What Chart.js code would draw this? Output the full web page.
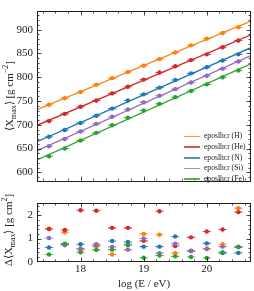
<!DOCTYPE html>
<html><head><meta charset="utf-8">
<script src="https://cdn.jsdelivr.net/npm/chart.js@4"></script>
<style>
html,body{margin:0;padding:0;background:#fff;}
#wrap{position:relative;width:254px;height:291px;overflow:hidden;font-family:"Liberation Serif",serif;color:#222;}
#c1box{position:absolute;left:0;top:0;width:254px;height:192px;}
#c2box{position:absolute;left:0;top:192px;width:254px;height:99px;}
.ytitle{position:absolute;white-space:nowrap;font-size:11px;line-height:12px;transform:translate(-50%,-50%) rotate(-90deg);}
.ytitle sub,.ytitle sup{font-size:0.72em;line-height:0;}
#legend{position:absolute;left:184px;top:131.4px;width:68px;font-size:7.6px;}
#legend div{height:10.6px;line-height:10.6px;white-space:nowrap;position:relative;}
#legend span.l{position:absolute;left:0;top:4.5px;width:16px;height:1.6px;}
#legend span.t{position:absolute;left:20px;top:0;}
</style></head>
<body>
<div id="wrap">
  <div id="c1box"><canvas id="c1" width="254" height="192"></canvas></div>
  <div id="c2box"><canvas id="c2" width="254" height="99"></canvas></div>
  <div class="ytitle" style="left:9px;top:96px;">⟨X<sub>max</sub>⟩ [g cm<sup>−2</sup>]</div>
  <div class="ytitle" style="left:8px;top:230px;">Δ⟨X<sub>max</sub>⟩ [g cm<sup>2</sup>]</div>
  <div id="legend"></div>
</div>
<script>
// ---------------- data ----------------
const logE = [17.5,17.75,18.0,18.25,18.5,18.75,19.0,19.25,19.5,19.75,20.0,20.25,20.5];
const seriesNames = ["eposlhcr (H)","eposlhcr (He)","eposlhcr (N)","eposlhcr (Si)","eposlhcr (Fe)"];
const xmaxH  = [742,756,769,784,798,811,824,838,852,867,881,893,905];
const xmaxHe = [708,723,738,751,766,780,795,810,823,836,848,863,877];
const xmaxN  = [675,689,704,719,734,751,764,778,794,808,821,835,848];
const xmaxSi = [655,670,686,702,717,732,747,761,775,789,803,818,833];
const xmaxFe = [634,650,667,683,699,715,730,744,758,771,785,800,814];
const dXmaxH  = [1.42,1.27,0.52,0.65,0.31,0.75,1.20,1.16,0.37,0.46,0.57,0.75,2.31];
const dXmaxHe = [1.41,1.37,2.22,2.20,1.46,1.46,0.90,2.18,0.68,1.05,1.30,1.39,2.14];
const dXmaxN  = [0.61,0.76,0.75,0.72,0.89,0.85,0.65,0.65,1.09,0.46,0.79,0.37,0.38];
const dXmaxSi = [1.02,0.71,0.57,0.75,0.64,0.52,1.00,0.37,0.78,0.48,0.55,0.65,0.62];
const dXmaxFe = [0.31,0.78,0.41,0.51,0.52,0.71,0.17,0.27,0.23,0.20,0.16,0.41,0.65];
const xTicks = [18,19,20];
const xmaxTicksStep = 50;
const dTicksStep = 1;
const binHalfWidth = 0.065;
const xmaxErr = 3;
const dXmaxErr = 0.06;

// ---------------- style ----------------
const colors = ["#ff7f0e","#d62728","#1f77b4","#9467bd","#2ca02c"];
const X_MIN = 17.31, X_MAX = 20.70;
const FONT = "'Liberation Serif', serif";
const TXT = "#222";

function alpha(hex,a){const n=parseInt(hex.slice(1),16);return `rgba(${n>>16},${(n>>8)&255},${n&255},${a})`;}
function fitLine(xs, ys){
  const n=xs.length; const mx=xs.reduce((a,b)=>a+b,0)/n; const my=ys.reduce((a,b)=>a+b,0)/n;
  let sxy=0,sxx=0; for(let i=0;i<n;i++){sxy+=(xs[i]-mx)*(ys[i]-my);sxx+=(xs[i]-mx)**2;}
  const b=sxy/sxx, a=my-b*mx;
  return [{x:X_MIN,y:a+b*X_MIN},{x:X_MAX,y:a+b*X_MAX}];
}
const pts = arr => logE.map((x,i)=>({x, y:arr[i]}));

const errorBars = {
  id:'errorBars',
  beforeDatasetDraw(chart, args){
    const ds = chart.data.datasets[args.index];
    if(!ds.errX) return;
    const {ctx, scales:{x,y}} = chart;
    ctx.save();
    ctx.strokeStyle = alpha(ds.backgroundColor,0.85);
    ctx.lineWidth = 1.1;
    ds.data.forEach(p=>{
      const px=x.getPixelForValue(p.x), py=y.getPixelForValue(p.y);
      ctx.beginPath();
      ctx.moveTo(x.getPixelForValue(p.x-ds.errX),py); ctx.lineTo(x.getPixelForValue(p.x+ds.errX),py);
      ctx.moveTo(px,y.getPixelForValue(p.y-ds.errY)); ctx.lineTo(px,y.getPixelForValue(p.y+ds.errY));
      ctx.stroke();
    });
    ctx.restore();
  }
};

const frameTicks = {
  id:'frameTicks',
  afterDraw(chart, args, o){
    const {ctx, chartArea:a, scales:{x,y}} = chart;
    ctx.save();
    ctx.strokeStyle = TXT; ctx.lineWidth = 1;
    ctx.strokeRect(Math.round(a.left)+0.5, Math.round(a.top)+0.5, Math.round(a.right-a.left)-1, Math.round(a.bottom-a.top)-1);
    const L=Math.round(a.left)+0.5, R=Math.round(a.right)-0.5, T=Math.round(a.top)+0.5, B=Math.round(a.bottom)-0.5;
    function vals(min,max,step){const out=[];for(let v=Math.ceil(min/step-1e-9)*step; v<=max+1e-9; v+=step) out.push(+v.toFixed(6));return out;}
    ctx.lineWidth = 0.8;
    const drawX=(v,len)=>{const px=Math.round(x.getPixelForValue(v))+0.5; if(px<L+1||px>R-1) return; ctx.beginPath(); ctx.moveTo(px,B); ctx.lineTo(px,B-len); ctx.moveTo(px,T); ctx.lineTo(px,T+len); ctx.stroke();};
    const drawY=(v,len)=>{const py=Math.round(y.getPixelForValue(v))+0.5; if(py<T+1||py>B-1) return; ctx.beginPath(); ctx.moveTo(L,py); ctx.lineTo(L+len,py); ctx.moveTo(R,py); ctx.lineTo(R-len,py); ctx.stroke();};
    vals(x.min,x.max,o.xMinor).forEach(v=>drawX(v,2));
    vals(x.min,x.max,o.xMajor).forEach(v=>drawX(v,4));
    vals(y.min,y.max,o.yMinor).forEach(v=>drawY(v,2));
    vals(y.min,y.max,o.yMajor).forEach(v=>drawY(v,4));
    ctx.restore();
  }
};

const arrsTop = [xmaxH,xmaxHe,xmaxN,xmaxSi,xmaxFe];
const arrsBot = [dXmaxH,dXmaxHe,dXmaxN,dXmaxSi,dXmaxFe];

function pointDatasets(arrs, err){
  return arrs.map((arr,i)=>({
    label: seriesNames[i], data: pts(arr), showLine:false,
    backgroundColor: colors[i], borderColor: colors[i],
    pointRadius: 2.2, pointBorderWidth: 0, pointHoverRadius: 2.2,
    errX: binHalfWidth, errY: err, order: 5 - i
  }));
}
const lineDatasets = arrsTop.map((arr,i)=>({
  label: seriesNames[i]+" fit", data: fitLine(logE, arr), showLine:true,
  borderColor: colors[i], backgroundColor: colors[i], borderWidth: 1.3,
  pointRadius: 0, order: 20 - i
}));

const yWidthFit = s => { s.width = 37; };

new Chart(document.getElementById('c1'), {
  type:'scatter',
  data:{ datasets:[...lineDatasets, ...pointDatasets(arrsTop, xmaxErr)] },
  options:{
    responsive:false, animation:false, devicePixelRatio:1,
    layout:{padding:{left:0,right:3,top:3,bottom:4}},
    plugins:{legend:{display:false}, tooltip:{enabled:false},
      frameTicks:{xMajor:1, xMinor:0.2, yMajor:50, yMinor:10}},
    scales:{
      x:{type:'linear', display:false, min:X_MIN, max:X_MAX},
      y:{type:'linear', min:581, max:940, afterFit:yWidthFit,
         grid:{display:false, drawTicks:false}, border:{display:false},
         ticks:{stepSize:xmaxTicksStep, includeBounds:false, padding:4, color:TXT, font:{family:FONT,size:11}}}
    }
  },
  plugins:[errorBars, frameTicks]
});

new Chart(document.getElementById('c2'), {
  type:'scatter',
  data:{ datasets: pointDatasets(arrsBot, dXmaxErr) },
  options:{
    responsive:false, animation:false, devicePixelRatio:1,
    layout:{padding:{left:0,right:3,top:6.3,bottom:0}},
    plugins:{legend:{display:false}, tooltip:{enabled:false},
      frameTicks:{xMajor:1, xMinor:0.2, yMajor:1, yMinor:0.2}},
    scales:{
      x:{type:'linear', min:X_MIN, max:X_MAX, afterFit:s=>{s.height=29.3;},
         grid:{display:false, drawTicks:false}, border:{display:false},
         afterBuildTicks:s=>{s.ticks = xTicks.map(v=>({value:v}));},
         ticks:{padding:1, color:TXT, font:{family:FONT,size:11}, callback:v=>String(v)},
         title:{display:true, text:'log (E / eV)', color:TXT, font:{family:FONT,size:11}, padding:{top:2,bottom:0}}},
      y:{type:'linear', min:0, max:2.55, afterFit:yWidthFit,
         grid:{display:false, drawTicks:false}, border:{display:false},
         ticks:{stepSize:dTicksStep, includeBounds:false, padding:4, color:TXT, font:{family:FONT,size:11}}}
    }
  },
  plugins:[errorBars, frameTicks]
});

// legend
const lg = document.getElementById('legend');
seriesNames.forEach((n,i)=>{
  const d=document.createElement('div');
  d.innerHTML=`<span class="l" style="background:${alpha(colors[i],0.8)}"></span><span class="t">${n}</span>`;
  lg.appendChild(d);
});
</script>
</body></html>
